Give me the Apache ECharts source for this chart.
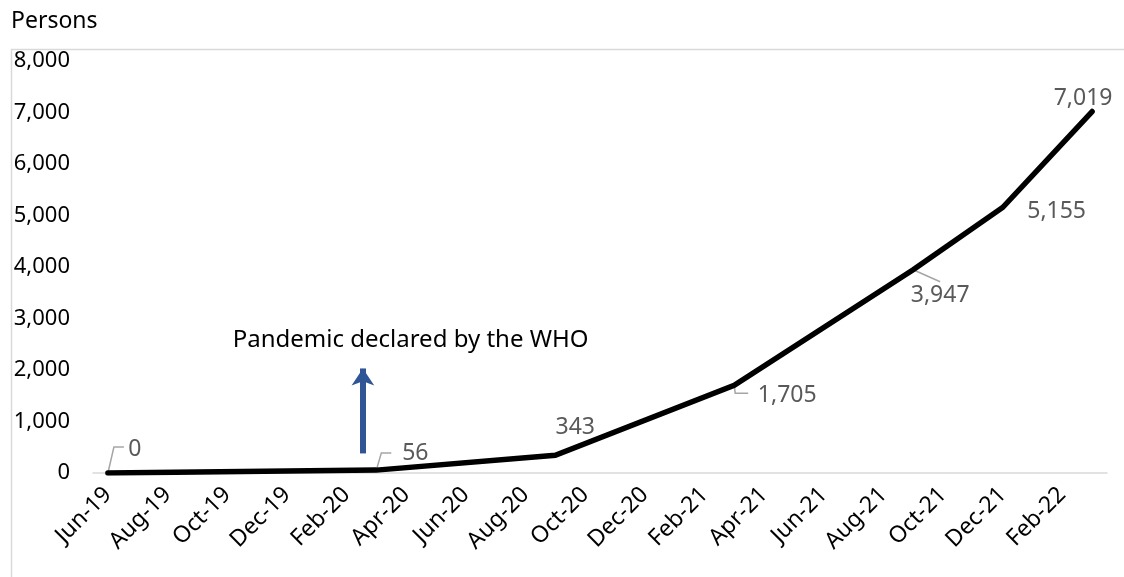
<!DOCTYPE html>
<html>
<head>
<meta charset="utf-8">
<script src="https://cdn.jsdelivr.net/npm/echarts@6/dist/echarts.min.js"></script>
<style>
  html, body { margin: 0; padding: 0; background: #fff; }
  #chart { width: 1124px; height: 577px; }
</style>
</head>
<body>
<div id="chart"></div>
<script>
// Monthly categories, Jun-19 to Mar-22
const months = [
  'Jun-19','Jul-19','Aug-19','Sep-19','Oct-19','Nov-19','Dec-19',
  'Jan-20','Feb-20','Mar-20','Apr-20','May-20','Jun-20','Jul-20','Aug-20','Sep-20','Oct-20','Nov-20','Dec-20',
  'Jan-21','Feb-21','Mar-21','Apr-21','May-21','Jun-21','Jul-21','Aug-21','Sep-21','Oct-21','Nov-21','Dec-21',
  'Jan-22','Feb-22','Mar-22'
];

// Observed months and cumulative persons
const obsMonths = ['Jun-19', 'Mar-20', 'Sep-20', 'Mar-21', 'Sep-21', 'Dec-21', 'Mar-22'];
const persons   = [0, 56, 343, 1705, 3947, 5155, 7019];

// Y axis ticks
const yTicks = [0, 1000, 2000, 3000, 4000, 5000, 6000, 7000, 8000];

// Annotation
const noteText = 'Pandemic declared by the WHO';
const arrowMonthPos = 8.55;          // position along the month axis (index)
const arrowFrom = 380, arrowTo = 2030;
const notePos = [10.15, 2570];

const FONT = 'Noto Sans';
const fmt = v => v.toLocaleString('en-US');

// Per-point label placement: label offset from the point, optional leader path (px, relative to point)
const labelPlacement = [
  { offset: [27, -24], leader: [[6, -26], [16, -26]] },
  { offset: [39, -17], leader: [[5, -17], [15, -17]] },
  { offset: [20, -28], leader: null },
  { offset: [53, 10],  leader: [[1, 8], [14, 8]] },
  { offset: [27, 26],  leader: [[27, 12]] },
  { offset: [54, 4],   leader: null },
  { offset: [-9, -13], leader: null }
];

const seriesData = months.map(m => {
  const k = obsMonths.indexOf(m);
  if (k < 0) return null;
  return {
    value: persons[k],
    label: { position: 'inside', offset: labelPlacement[k].offset }
  };
});

const baseGraphics = [
  {
    id: 'frame', type: 'rect', left: 9, top: 47,
    shape: { width: 1300, height: 700 },
    style: { fill: 'none', stroke: '#d9d9d9', lineWidth: 1.5 },
    silent: true
  },
  {
    id: 'ytitle', type: 'text', left: 11, top: 10,
    style: { text: 'Persons', font: '23px "Noto Sans"', fill: '#000' }
  }
];

const chart = echarts.init(document.getElementById('chart'));
chart.setOption({
  animation: false,
  textStyle: { fontFamily: FONT },
  graphic: baseGraphics,
  grid: { left: 93, right: 17, top: 61, bottom: 104, containLabel: false },
  xAxis: [
    {
      type: 'category',
      data: months,
      boundaryGap: true,
      axisLine: { lineStyle: { color: '#d9d9d9', width: 1.5 } },
      axisTick: { interval: 1, length: 8, lineStyle: { color: '#d9d9d9', width: 1.5 } },
      axisLabel: {
        interval: 1, rotate: 45, margin: 18,
        fontSize: 23, color: '#000', fontFamily: FONT
      }
    },
    {
      type: 'value', min: -0.5, max: months.length - 0.5,
      show: false
    }
  ],
  yAxis: {
    type: 'value',
    min: yTicks[0], max: yTicks[yTicks.length - 1], interval: 1000,
    axisLine: { show: false },
    axisTick: { show: false },
    splitLine: { show: false },
    axisLabel: {
      margin: 23, fontSize: 22, color: '#000', fontFamily: FONT,
      padding: [10, 0, 0, 0],
      formatter: v => fmt(v)
    }
  },
  series: [
    {
      type: 'line',
      data: seriesData,
      connectNulls: true,
      symbol: 'circle',
      symbolSize: 1,
      showSymbol: true,
      itemStyle: { color: '#000' },
      lineStyle: { color: '#000', width: 5.5, join: 'miter', cap: 'round' },
      label: {
        show: true,
        fontSize: 23, color: '#595959', fontFamily: FONT,
        formatter: p => fmt(p.value)
      }
    },
    {
      type: 'line',
      xAxisIndex: 1,
      data: [],
      markLine: {
        silent: true,
        symbol: ['none', 'arrow'],
        symbolSize: 17,
        label: { show: false },
        lineStyle: { color: '#2f5597', width: 6, type: 'solid', opacity: 1 },
        data: [[
          { coord: [arrowMonthPos, arrowFrom] },
          { coord: [arrowMonthPos, arrowTo] }
        ]]
      },
      markPoint: {
        silent: true,
        symbol: 'circle',
        symbolSize: 0,
        label: {
          show: true, position: 'inside',
          fontSize: 24, color: '#000', fontFamily: FONT,
          formatter: noteText
        },
        data: [{ coord: notePos }]
      }
    }
  ]
});

// Leader lines from points to their value labels, anchored at the points' pixel positions
const leaders = [];
obsMonths.forEach((m, k) => {
  const path = labelPlacement[k].leader;
  if (!path) return;
  const [px, py] = chart.convertToPixel({ xAxisIndex: 0, yAxisIndex: 0 }, [m, persons[k]]);
  leaders.push({
    id: 'leader' + k,
    type: 'polyline',
    z: 1,
    shape: { points: [[px, py]].concat(path.map(([dx, dy]) => [px + dx, py + dy])) },
    style: { fill: 'none', stroke: '#a6a6a6', lineWidth: 1.5 },
    silent: true
  });
});
chart.setOption({ graphic: baseGraphics.concat(leaders) });
</script>
</body>
</html>
